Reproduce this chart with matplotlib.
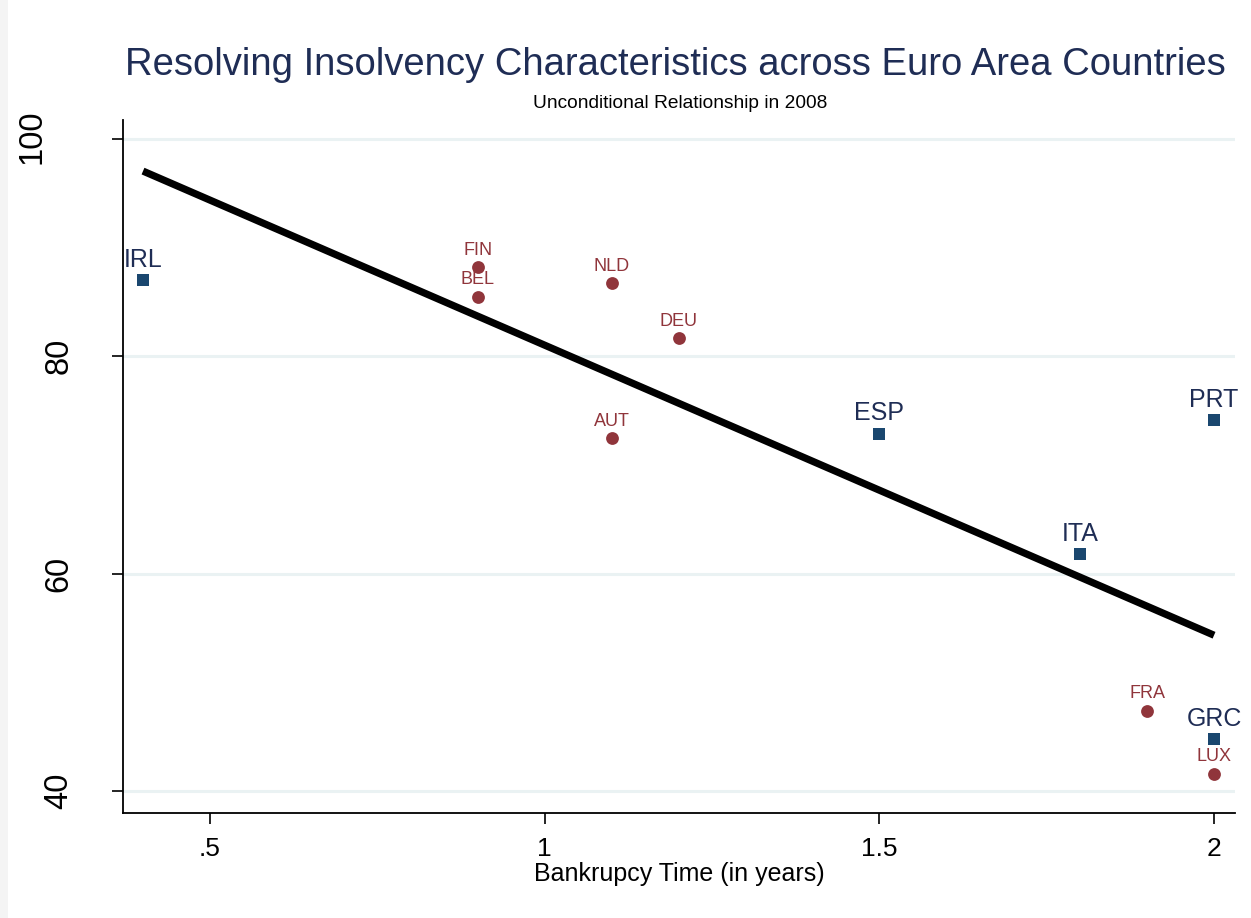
import matplotlib
matplotlib.use("Agg")
import matplotlib.pyplot as plt
import matplotlib.transforms as mtransforms
import numpy as np
from matplotlib.patches import Rectangle

plt.rcParams['font.family'] = ['Liberation Sans', 'DejaVu Sans']

# Data
countries = ["IRL", "FIN", "BEL", "NLD", "DEU", "AUT", "ESP", "PRT", "ITA", "FRA", "GRC", "LUX"]
bankruptcy_time = [0.4, 0.9, 0.9, 1.1, 1.2, 1.1, 1.5, 2.0, 1.8, 1.9, 2.0, 2.0]
recovery_score = [87.0, 88.2, 85.5, 86.75, 81.7, 72.5, 72.9, 74.1, 61.8, 47.4, 44.8, 41.6]
group = ["blue", "red", "red", "red", "red", "red", "blue", "blue", "blue", "red", "blue", "red"]
x_ticks = [0.5, 1.0, 1.5, 2.0]
x_ticklabels = [".5", "1", "1.5", "2"]
y_ticks = [40, 60, 80, 100]

title = "Resolving Insolvency Characteristics across Euro Area Countries"
subtitle = "Unconditional Relationship in 2008"
xlabel = "Bankrupcy Time (in years)"

RED = "#90353b"
BLUE = "#1a476f"
NAVY = "#1f2d55"

fig = plt.figure(figsize=(12.51, 9.18), dpi=100)
fig.patch.set_facecolor("white")
fig.patches.append(Rectangle((0, 0), 8 / 1251, 1, transform=fig.transFigure,
                             facecolor="#f4f4f4", edgecolor="none", zorder=0))

ax = fig.add_axes([123 / 1251, 1 - 813 / 918, (1235 - 123) / 1251, (813 - 120) / 918])
ax.set_xlim(0.3701, 2.0313)
ax.set_ylim(37.98, 101.75)

for s in ["top", "right"]:
    ax.spines[s].set_visible(False)
for s in ["left", "bottom"]:
    ax.spines[s].set_linewidth(1.3)
    ax.spines[s].set_color("black")

ax.set_yticks(y_ticks)
ax.set_yticklabels([str(v) for v in y_ticks], rotation=90, va="center", fontsize=23.5)
ax.set_xticks(x_ticks)
ax.set_xticklabels(x_ticklabels, fontsize=19)
ax.tick_params(axis="y", length=8, width=1.2, pad=27)
ax.tick_params(axis="x", length=8, width=1.2, pad=9)

# Stata-style placement: the three-digit label sits further left
for lab in ax.get_yticklabels():
    if lab.get_text() == "100":
        lab.set_transform(lab.get_transform() +
                          mtransforms.ScaledTranslation(-27 / 100, 2 / 100, fig.dpi_scale_trans))

for yv in y_ticks:
    ax.axhline(yv, color="#eaf2f3", lw=2.2, zorder=0)

x = np.array(bankruptcy_time)
y = np.array(recovery_score)
slope, intercept = np.polyfit(x, y, 1)
xl = np.array([x.min(), x.max()])
ax.plot(xl, intercept + slope * xl, color="black", lw=5.2, zorder=2, solid_capstyle="butt")

for xi, yi, c, g in zip(x, y, countries, group):
    if g == "red":
        ax.scatter(xi, yi, s=85, marker="o", color=RED, zorder=3, linewidths=0)
        ax.annotate(c, (xi, yi), xytext=(0, 6), textcoords="offset points",
                    ha="center", va="bottom", fontsize=13, color=RED)
    else:
        ax.scatter(xi, yi, s=80, marker="s", color=BLUE, zorder=3, linewidths=0)
        ax.annotate(c, (xi, yi), xytext=(0, 6), textcoords="offset points",
                    ha="center", va="bottom", fontsize=18, color=NAVY)

ax.set_xlabel(xlabel, fontsize=18, labelpad=1)

fig.text(675 / 1251, 1 - 65 / 918, title, ha="center", va="center", fontsize=27.5, color=NAVY)
fig.text(680 / 1251, 1 - 104 / 918, subtitle, ha="center", va="center", fontsize=13.8, color="black")

fig.savefig("out.png", dpi=100)
